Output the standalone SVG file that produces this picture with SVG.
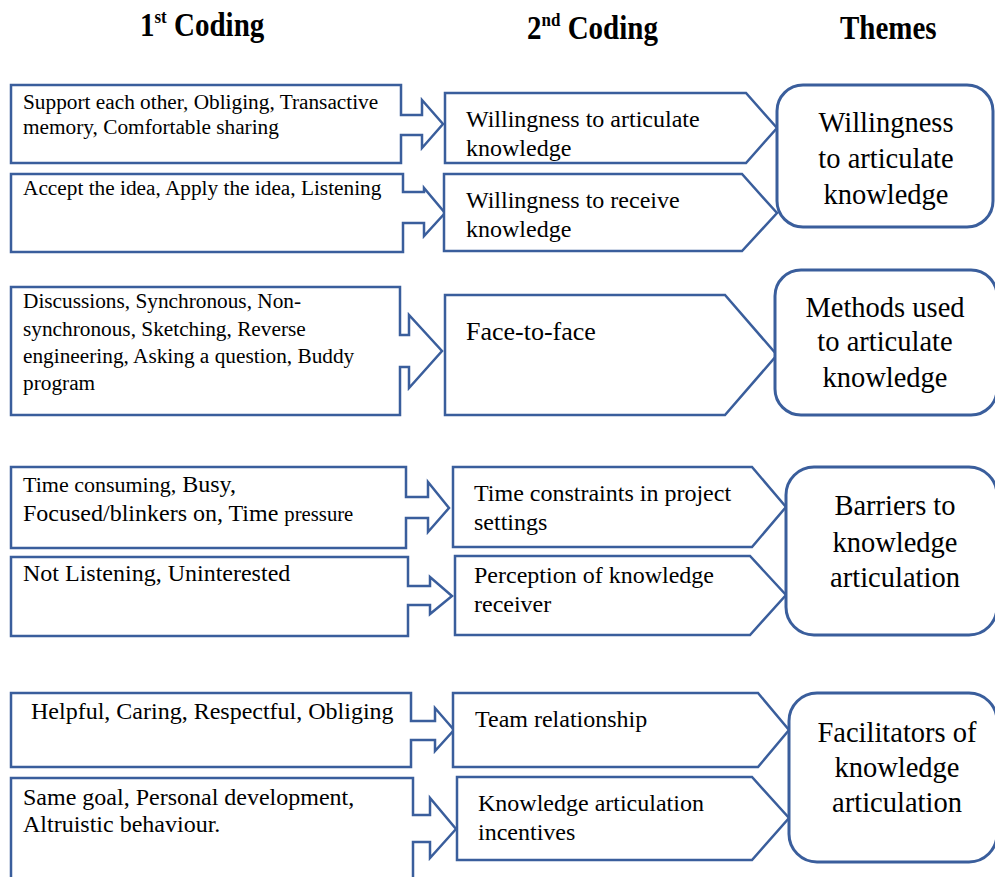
<svg xmlns="http://www.w3.org/2000/svg" width="995" height="877" viewBox="0 0 995 877">
  <style>
    .shape { fill: #ffffff; stroke: #3a5e9c; stroke-width: 2.5; stroke-linejoin: miter; }
    .theme { fill: #ffffff; stroke: #3a5e9c; stroke-width: 3; }
    text { font-family: "Liberation Serif", "Times New Roman", serif; fill: #000000; }
    .hd { font-size: 29px; font-weight: bold; }
    .sm { font-size: 21.3px; }
    .md { font-size: 24px; }
    .th { font-size: 28.5px; text-anchor: middle; }
  </style>
  <rect width="995" height="877" fill="#ffffff"/>

  <!-- column headings -->
  <g id="headings">
    <text class="hd" transform="translate(140,36) scale(1,1.15)">1<tspan font-size="17" dy="-11">st</tspan><tspan dy="11"> Coding</tspan></text>
    <text class="hd" transform="translate(527,39) scale(1,1.15)">2<tspan font-size="17" dy="-11">nd</tspan><tspan dy="11"> Coding</tspan></text>
    <text class="hd" transform="translate(840,39) scale(1,1.15)">Themes</text>
  </g>

  <!-- first coding: boxes with right-pointing arrow callouts -->
  <g id="code1-support">
    <path class="shape" d="M11,85 H401 V115 H422 V100 L443,124 L422,148 V135 H401 V163 H11 Z"/>
    <text class="sm" x="23" y="109">Support each other, Obliging, Transactive</text>
    <text class="sm" x="23" y="134">memory, Comfortable sharing</text>
  </g>
  <g id="code1-accept">
    <path class="shape" d="M11,174 H403 V192 H424 V188 L445,213 L424,236 V223 H403 V252 H11 Z"/>
    <text class="sm" x="23" y="195">Accept the idea, Apply the idea, Listening</text>
  </g>
  <g id="code1-discussions">
    <path class="shape" d="M11,287 H400 V335 H409 V315 L442,351 L409,388 V367 H400 V415 H11 Z"/>
    <text class="sm" x="23" y="308">Discussions, Synchronous, Non-</text>
    <text class="sm" x="23" y="336">synchronous, Sketching, Reverse</text>
    <text class="sm" x="23" y="363">engineering, Asking a question, Buddy</text>
    <text class="sm" x="23" y="390">program</text>
  </g>
  <g id="code1-time">
    <path class="shape" d="M11,467 H406 V497 H428 V482 L449,508 L428,532 V518 H406 V548 H11 Z"/>
    <text class="md" x="23" y="492"><tspan font-size="22">Time consuming,</tspan> Busy,</text>
    <text class="md" x="23" y="521">Focused/blinkers on, Time <tspan font-size="20.7">pressure</tspan></text>
  </g>
  <g id="code1-notlistening">
    <path class="shape" d="M11,557 H408 V586 H430 V577 L452,596 L430,614 V605 H408 V636 H11 Z"/>
    <text class="md" x="23" y="581">Not Listening, Uninterested</text>
  </g>
  <g id="code1-helpful">
    <path class="shape" d="M11,693 H411 V721 H435 V708 L454,730 L435,751 V740 H411 V767 H11 Z"/>
    <text class="md" x="31" y="719">Helpful, Caring, Respectful, Obliging</text>
  </g>
  <g id="code1-goal">
    <path class="shape" d="M11,778 H413 V815 H430 V798 L456,829 L430,858 V842 H413 V890 H11 Z"/>
    <text class="md" x="23" y="805">Same goal, Personal development,</text>
    <text class="md" x="23" y="832">Altruistic behaviour.</text>
  </g>

  <!-- second coding: pentagon arrows -->
  <g id="code2-articulate">
    <path class="shape" d="M445,93 H746 L777,128 L746,163 H445 Z"/>
    <text class="md" x="466" y="127">Willingness to articulate</text>
    <text class="md" x="466" y="156">knowledge</text>
  </g>
  <g id="code2-receive">
    <path class="shape" d="M444,174 H742 L777,213 L742,251 H444 Z"/>
    <text class="md" x="466" y="208">Willingness to receive</text>
    <text class="md" x="466" y="237">knowledge</text>
  </g>
  <g id="code2-face">
    <path class="shape" d="M445,295 H725 L777,355 L725,415 H445 Z"/>
    <text x="466" y="340" font-size="26">Face-to-face</text>
  </g>
  <g id="code2-timeconstraints">
    <path class="shape" d="M453,467 H752 L786,507 L752,547 H453 Z"/>
    <text class="md" x="474" y="501">Time constraints in project</text>
    <text class="md" x="474" y="530">settings</text>
  </g>
  <g id="code2-perception">
    <path class="shape" d="M455,556 H750 L786,595 L750,635 H455 Z"/>
    <text class="md" x="474" y="583">Perception of knowledge</text>
    <text class="md" x="474" y="612">receiver</text>
  </g>
  <g id="code2-team">
    <path class="shape" d="M453,693 H758 L789,730 L758,767 H453 Z"/>
    <text class="md" x="475" y="727">Team relationship</text>
  </g>
  <g id="code2-incentives">
    <path class="shape" d="M457,777 H752 L789,818 L752,860 H457 Z"/>
    <text class="md" x="478" y="811">Knowledge articulation</text>
    <text class="md" x="478" y="840">incentives</text>
  </g>

  <!-- themes -->
  <g id="theme-willingness">
    <rect class="theme" x="777" y="85" width="216" height="142" rx="26"/>
    <text class="th" x="886" y="132">Willingness</text>
    <text class="th" x="886" y="168">to articulate</text>
    <text class="th" x="886" y="204">knowledge</text>
  </g>
  <g id="theme-methods">
    <rect class="theme" x="775" y="270" width="222" height="145" rx="26"/>
    <text class="th" x="885" y="317">Methods used</text>
    <text class="th" x="885" y="351">to articulate</text>
    <text class="th" x="885" y="387">knowledge</text>
  </g>
  <g id="theme-barriers">
    <rect class="theme" x="786" y="467" width="211" height="168" rx="28"/>
    <text class="th" x="895" y="515">Barriers to</text>
    <text class="th" x="895" y="552">knowledge</text>
    <text class="th" x="895" y="587">articulation</text>
  </g>
  <g id="theme-facilitators">
    <rect class="theme" x="789" y="693" width="208" height="169" rx="28"/>
    <text class="th" x="897" y="742">Facilitators of</text>
    <text class="th" x="897" y="777">knowledge</text>
    <text class="th" x="897" y="812">articulation</text>
  </g>

  <g id="connectors"/>
</svg>
